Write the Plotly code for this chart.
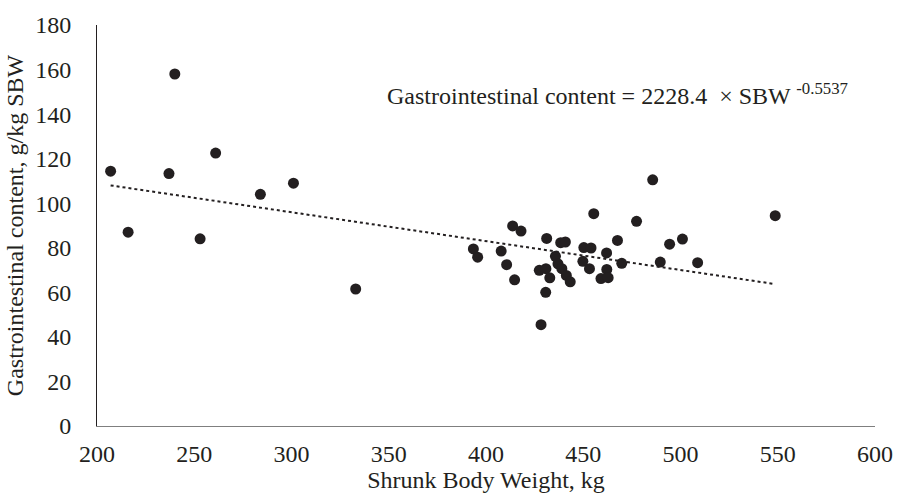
import plotly.graph_objects as go

# Shrunk body weight (kg) and gastrointestinal content (g/kg SBW)
sbw = [207, 216, 240, 237, 253, 261, 284, 301, 333,
       393.5, 395.7, 407.8, 410.6, 413.7, 418, 414.7,
       427.4, 430.8, 432.8, 430.7, 428.3, 431.2,
       435.7, 437, 439, 441.3, 443.3,
       438.4, 440.8,
       450.3, 454, 449.8, 453.2, 455.4,
       462, 462.1, 459.1, 462.8,
       467.6, 469.8, 477.4, 485.7, 489.6, 494.4, 501, 508.8, 548.7]
gic = [114.4, 87, 158, 113.3, 84, 122.5, 104, 109, 61.5,
       79.5, 75.8, 78.5, 72.4, 89.8, 87.5, 65.6,
       69.9, 70.6, 66.5, 60, 45.5, 84.2,
       76.2, 72.8, 70.6, 67.6, 64.7,
       82.3, 82.6,
       80.1, 79.9, 73.9, 70.6, 95.3,
       77.7, 70.3, 66.2, 66.6,
       83.3, 73, 91.9, 110.5, 73.6, 81.6, 83.9, 73.3, 94.4]

# Trend line end points as drawn
trend_x = [207, 548]
trend_y = [108, 63.8]

x_ticks = [200, 250, 300, 350, 400, 450, 500, 550, 600]
y_ticks = [0, 20, 40, 60, 80, 100, 120, 140, 160, 180]

FONT = "'Liberation Serif', 'Times New Roman', 'DejaVu Serif', serif"
INK = "#231f20"
FS = 24

fig = go.Figure()
fig.add_trace(go.Scatter(
    x=sbw, y=gic, mode="markers",
    marker=dict(size=11, color=INK, line=dict(width=0)),
    showlegend=False, hoverinfo="x+y"))
fig.add_trace(go.Scatter(
    x=trend_x, y=trend_y, mode="lines",
    line=dict(color=INK, width=2, dash="dot"),
    showlegend=False, hoverinfo="skip"))

fig.add_annotation(
    x=348, y=149, xref="x", yref="y", xanchor="left", yanchor="middle",
    text="Gastrointestinal content = 2228.4  × SBW <sup>-0.5537</sup>",
    showarrow=False, font=dict(family=FONT, size=FS, color=INK))

fig.update_layout(
    width=905, height=500,
    margin=dict(l=97, r=21, t=20, b=74),
    paper_bgcolor="white", plot_bgcolor="white",
    font=dict(family=FONT, size=FS, color=INK),
    xaxis=dict(
        range=[200, 600], tickvals=x_ticks, ticktext=[str(v) for v in x_ticks],
        showgrid=False, zeroline=False, showline=True, linecolor="#7f7f7f",
        linewidth=1, ticks="", ticklabelstandoff=6,
        title=dict(text="Shrunk Body Weight, kg", standoff=4,
                   font=dict(family=FONT, size=FS, color=INK)),
        tickfont=dict(family=FONT, size=FS, color=INK)),
    yaxis=dict(
        range=[0, 180], tickvals=y_ticks, ticktext=[str(v) for v in y_ticks],
        showgrid=False, zeroline=False, showline=True, linecolor=INK,
        linewidth=1, ticks="", ticklabelstandoff=20,
        title=dict(text="Gastrointestinal content, g/kg SBW", standoff=4,
                   font=dict(family=FONT, size=FS, color=INK)),
        tickfont=dict(family=FONT, size=FS, color=INK)),
)

fig.write_html("out.html")
